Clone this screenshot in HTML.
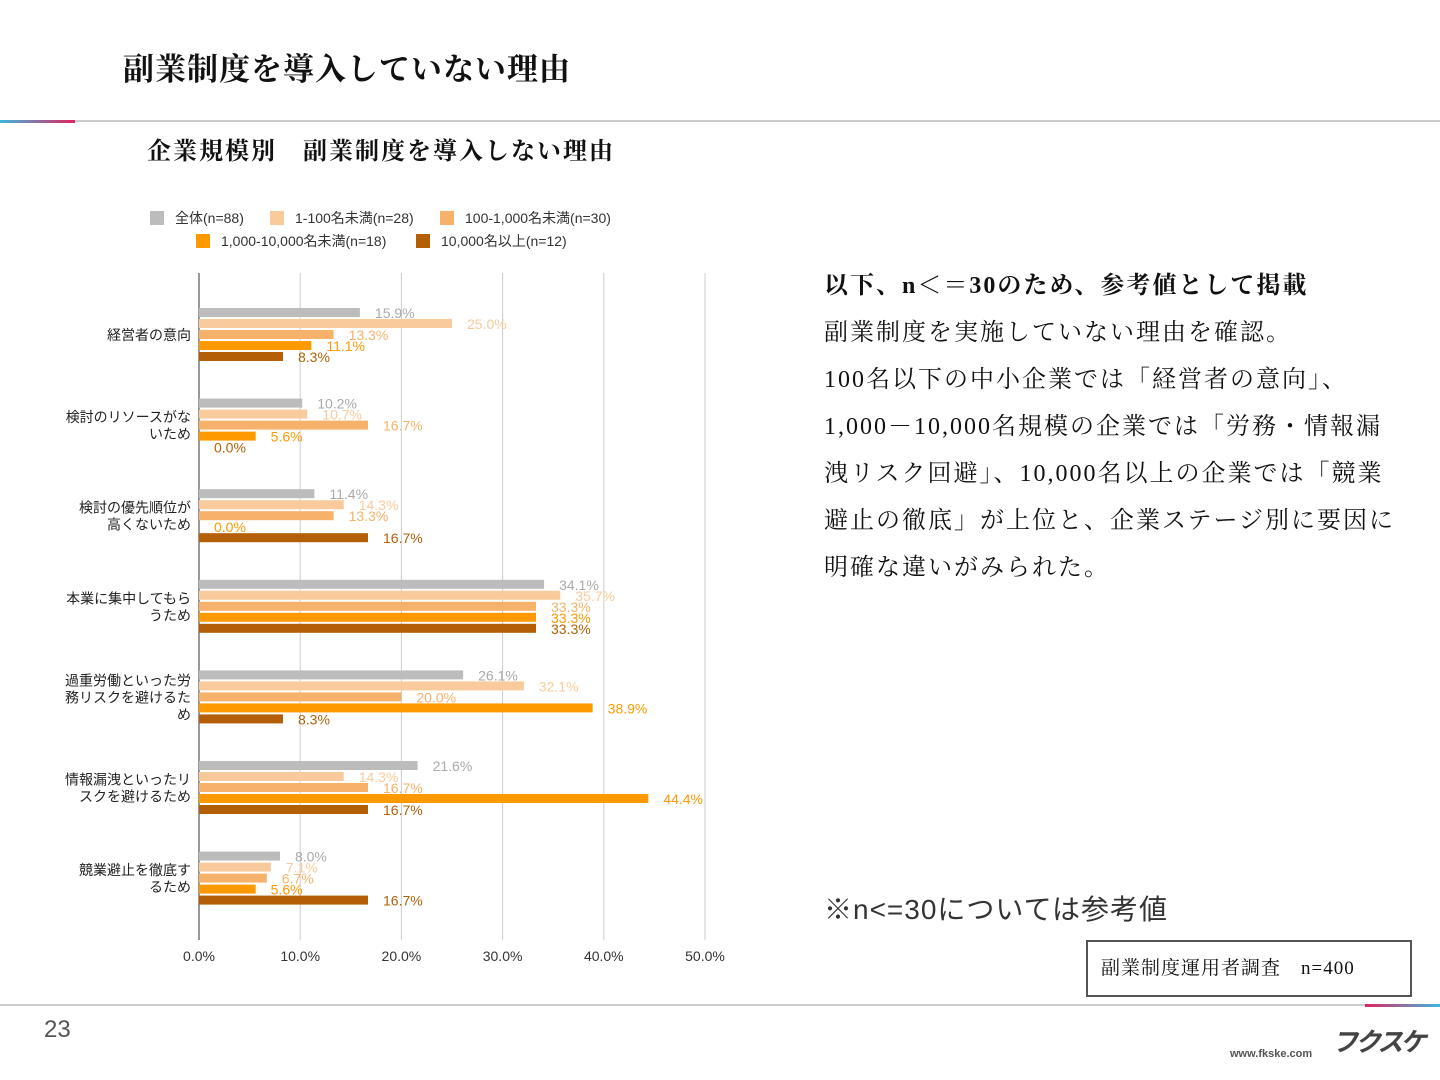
<!DOCTYPE html>
<html><head><meta charset="utf-8">
<style>
body{margin:0;width:1440px;height:1080px;background:#fff;position:relative;overflow:hidden;font-family:"Liberation Sans","Noto Sans CJK JP",sans-serif}
.abs{position:absolute}
.serif{font-family:"Liberation Serif","Noto Serif CJK SC",serif}
</style></head><body>
<div class="abs serif" style="left:123px;top:44px;font-size:31px;font-weight:bold;color:#111;letter-spacing:1px">副業制度を導入していない理由</div>
<div class="abs" style="left:0;top:120px;width:75px;height:3px;background:linear-gradient(90deg,#3ab7e0,#e0245e)"></div>
<div class="abs" style="left:75px;top:120px;width:1365px;height:2px;background:#ccc"></div>
<div class="abs serif" style="left:147px;top:131px;font-size:24px;font-weight:bold;color:#111;letter-spacing:2px">企業規模別　副業制度を導入しない理由</div>
<svg class="abs" style="left:0;top:0" width="760" height="1000" id="chart"></svg>
<div class="abs serif" style="left:824px;top:263px;width:610px;font-size:24px;line-height:47px;color:#111;letter-spacing:2px;white-space:nowrap">
<b style="letter-spacing:2px">以下、n＜＝30のため、参考値として掲載</b><br>副業制度を実施していない理由を確認。<br>100名以下の中小企業では「経営者の意向」、<br>1,000－10,000名規模の企業では「労務・情報漏<br>洩リスク回避」、10,000名以上の企業では「競業<br>避止の徹底」が上位と、企業ステージ別に要因に<br>明確な違いがみられた。</div>
<div class="abs" style="left:824px;top:888px;font-size:28px;color:#333;letter-spacing:1px">※n&lt;=30については参考値</div>
<div class="abs serif" style="left:1086px;top:940px;width:322px;height:53px;border:2px solid #555;font-size:19px;line-height:53px;color:#111;box-sizing:content-box;letter-spacing:1px"><span style="margin-left:13px">副業制度運用者調査　n=400</span></div>
<div class="abs" style="left:0;top:1004px;width:1365px;height:2px;background:#ccc"></div>
<div class="abs" style="left:1365px;top:1004px;width:75px;height:3px;background:linear-gradient(90deg,#e0245e,#3ab7e0)"></div>
<div class="abs" style="left:44px;top:1016px;font-size:24px;color:#555">23</div>
<div class="abs" style="left:1332px;top:1022px;font-size:26px;font-style:italic;font-weight:bold;color:#444;letter-spacing:-3px">フクスケ</div>
<div class="abs" style="left:1230px;top:1048px;font-size:11px;font-weight:bold;color:#555">www.fkske.com</div>
<script>
const categories=[["経営者の意向"],["検討のリソースがな","いため"],["検討の優先順位が","高くないため"],["本業に集中してもら","うため"],["過重労働といった労","務リスクを避けるた","め"],["情報漏洩といったリ","スクを避けるため"],["競業避止を徹底す","るため"]];
const seriesNames=["全体(n=88)","1-100名未満(n=28)","100-1,000名未満(n=30)","1,000-10,000名未満(n=18)","10,000名以上(n=12)"];
const sAll=[15.9,10.2,11.4,34.1,26.1,21.6,8.0];
const s1=[25.0,10.7,14.3,35.7,32.1,14.3,7.1];
const s2=[13.3,16.7,13.3,33.3,20.0,16.7,6.7];
const s3=[11.1,5.6,0.0,33.3,38.9,44.4,5.6];
const s4=[8.3,0.0,16.7,33.3,8.3,16.7,16.7];
const ticks=[0,10,20,30,40,50];
const series=[sAll,s1,s2,s3,s4];
const colors=["#bcbcbc","#f9cb9c","#f6b26b","#ff9900","#b45f06"];
const labelColors=["#aaaaaa","#f9cb9c","#f6b26b","#ff9900","#b45f06"];
const svg=document.getElementById('chart');const NS="http://www.w3.org/2000/svg";
const x=v=>199+v*10.12;
const gy=i=>308+i*90.6;
function mk(t,a,p){const e=document.createElementNS(NS,t);for(const k in a)e.setAttribute(k,a[k]);(p||svg).appendChild(e);return e;}
ticks.forEach(t=>{const l=mk('line',{x1:x(t),x2:x(t),y1:273,y2:940,stroke:t===0?'#333':'#ccc','stroke-width':1});

const tx=mk('text',{x:x(t),y:961,'text-anchor':'middle','font-size':14,fill:'#333'});tx.textContent=t.toFixed(1)+'%';
});
categories.forEach((c,i)=>{const cy=gy(i)+27;const n=c.length;c.forEach((ln,j)=>{const t=mk('text',{x:191,y:cy+(j-(n-1)/2)*17+5,'text-anchor':'end','font-size':14,fill:'#222'});t.textContent=ln;
});
series.forEach((s,k)=>{const y=gy(i)+k*11;const r=mk('rect',{x:199,y:y,width:Math.max(0,x(s[i])-199),height:9,fill:colors[k]});

const t=mk('text',{x:x(s[i])+15,y:y+10,'font-size':14,fill:labelColors[k]});t.textContent=s[i].toFixed(1)+'%';
});});
const leg=[[150,218],[270,218],[440,218],[196,241],[416,241]];
seriesNames.forEach((n,k)=>{const [lx,ly]=leg[k];const r=mk('rect',{x:lx,y:ly-7,width:14,height:14,fill:colors[k]});

const t=mk('text',{x:lx+25,y:ly+5,'font-size':14,fill:'#333'});t.textContent=n;
});
</script>
</body></html>
